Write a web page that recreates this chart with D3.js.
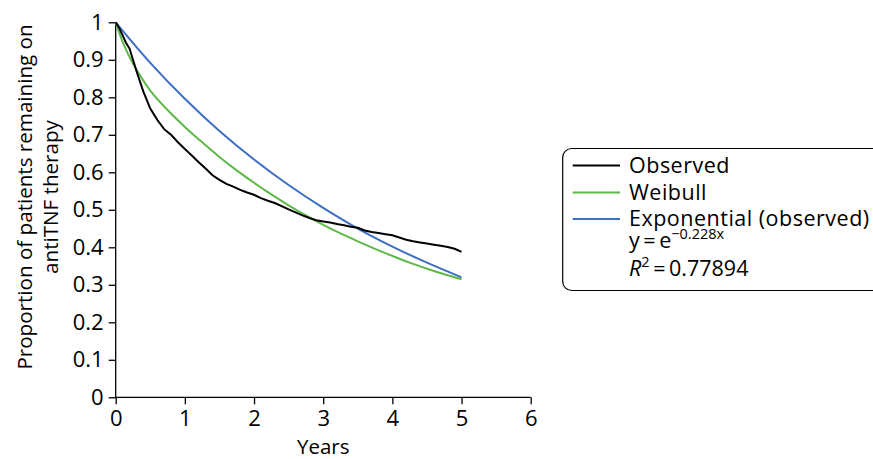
<!DOCTYPE html>
<html><head><meta charset="utf-8">
<script src="https://cdn.jsdelivr.net/npm/d3@7"></script>
<style>body{margin:0;background:#fff}svg{display:block}text{font-family:"Open Sans",sans-serif;fill:#000}</style>
</head><body>
<script>
const xTicks=[0,1,2,3,4,5,6];
const yTicks=[0,0.1,0.2,0.3,0.4,0.5,0.6,0.7,0.8,0.9,1];
const yTickLabels=["0","0.1","0.2","0.3","0.4","0.5","0.6","0.7","0.8","0.9","1"];
const observedYears=[0,0.05,0.1,0.15,0.2,0.3,0.4,0.5,0.6,0.7,0.8,0.9,1.0,1.1,1.2,1.3,1.4,1.5,1.6,1.7,1.8,1.9,2.0,2.1,2.2,2.3,2.4,2.5,2.6,2.7,2.8,2.9,3.0,3.1,3.2,3.3,3.4,3.5,3.6,3.7,3.8,3.9,4.0,4.1,4.2,4.3,4.4,4.5,4.6,4.7,4.8,4.9,5.0];
const observedValues=[1.0,0.985,0.965,0.945,0.93,0.87,0.815,0.77,0.74,0.715,0.70,0.68,0.662,0.645,0.627,0.61,0.592,0.58,0.569,0.562,0.553,0.546,0.54,0.531,0.524,0.518,0.51,0.501,0.493,0.485,0.478,0.472,0.469,0.466,0.462,0.459,0.455,0.452,0.445,0.441,0.438,0.435,0.432,0.426,0.42,0.416,0.413,0.41,0.407,0.404,0.401,0.396,0.388];
const weibullYears=[0,0.1,0.25,0.5,0.75,1.0,1.25,1.5,1.75,2.0,2.25,2.5,2.75,3.0,3.25,3.5,3.75,4.0,4.25,4.5,4.75,5.0];
const weibullValues=[1.0,0.948,0.89,0.818,0.766,0.721,0.680,0.641,0.605,0.572,0.541,0.512,0.485,0.460,0.437,0.416,0.396,0.377,0.359,0.343,0.328,0.315];
const expYears=[0,0.5,1,1.5,2,2.5,3,3.5,4,4.5,5];
const expValues=[1.0,0.892,0.796,0.710,0.634,0.566,0.505,0.450,0.402,0.359,0.320];
const seriesNames=["Observed","Weibull","Exponential (observed)"];
const colors=["#000000","#5db947","#3c6fc2"];

const W=873,H=459;
const svg=d3.select("body").append("svg").attr("width",W).attr("height",H);
const x=d3.scaleLinear().domain([0,6]).range([115.7,530.7]);
const y=d3.scaleLinear().domain([0,1]).range([397.3,22.3]);

const fs=22;
const gx=svg.append("g").attr("transform",`translate(0,${y(0)})`)
  .call(d3.axisBottom(x).tickValues(xTicks).tickFormat(d3.format("d")).tickSize(7).tickPadding(6));
const gy=svg.append("g").attr("transform",`translate(${x(0)},0)`)
  .call(d3.axisLeft(y).tickValues(yTicks).tickFormat((d,i)=>yTickLabels[i]).tickSize(7).tickPadding(5));
[gx,gy].forEach(g=>{
  g.select(".domain").attr("stroke","#000").attr("stroke-width",1.3);
  g.selectAll(".tick line").attr("stroke","#000").attr("stroke-width",1.3);
  g.selectAll(".tick text").attr("font-size",fs).attr("font-family","Open Sans").attr("fill","#000");
});
gy.select(".domain").attr("d",`M-0,${y(1)}V${y(0)}`);
gx.select(".domain").attr("d",`M${x(0)},0H${x(6)}`);

svg.append("text").attr("x",(x(0)+x(6))/2).attr("y",453.5).attr("text-anchor","middle")
  .attr("font-size",20.5).text("Years");
const yl=svg.append("g").attr("transform",`translate(0,197) rotate(-90)`);
yl.append("text").attr("x",0).attr("y",32).attr("text-anchor","middle").attr("font-size",20.6).text("Proportion of patients remaining on");
yl.append("text").attr("x",0).attr("y",58).attr("text-anchor","middle").attr("font-size",20.6).text("antiTNF therapy");

const line=d3.line().x(d=>x(d[0])).y(d=>y(d[1]));
const obs=observedYears.map((v,i)=>[v,observedValues[i]]);
const wei=weibullYears.map((v,i)=>[v,weibullValues[i]]);
const ex=expYears.map((v,i)=>[v,expValues[i]]);
svg.append("path").datum(ex).attr("d",line.curve(d3.curveCatmullRom)).attr("fill","none").attr("stroke",colors[2]).attr("stroke-width",2);
svg.append("path").datum(wei).attr("d",line.curve(d3.curveCatmullRom)).attr("fill","none").attr("stroke",colors[1]).attr("stroke-width",2);
svg.append("path").datum(obs).attr("d",line.curve(d3.curveLinear)).attr("fill","none").attr("stroke",colors[0]).attr("stroke-width",2);

// legend
const lg=svg.append("g");
lg.append("rect").attr("x",562.7).attr("y",148.5).attr("width",330).attr("height",142).attr("rx",9)
  .attr("fill","#fff").attr("stroke","#000").attr("stroke-width",1.2);
const rowY=[165.5,192.5,219];
seriesNames.forEach((n,i)=>{
  lg.append("line").attr("x1",572.7).attr("x2",620).attr("y1",rowY[i]).attr("y2",rowY[i]).attr("stroke",colors[i]).attr("stroke-width",2);
  lg.append("text").attr("x",629).attr("y",rowY[i]+7).attr("font-size",21.5).attr("letter-spacing",0.5).text(n);
});
const t1=lg.append("text").attr("x",629).attr("y",248).attr("font-size",21.5);
t1.append("tspan").text("y\u2009=\u2009e");
t1.append("tspan").attr("dy",-9).attr("font-size",14.5).text("\u22120.228x");
const t2=lg.append("text").attr("x",629).attr("y",276).attr("font-size",21.5);
t2.append("tspan").attr("font-style","italic").text("R");
t2.append("tspan").attr("dy",-9).attr("font-size",14.5).text("2");
t2.append("tspan").attr("dy",9).text("\u2009=\u20090.77894");
</script>
</body></html>
